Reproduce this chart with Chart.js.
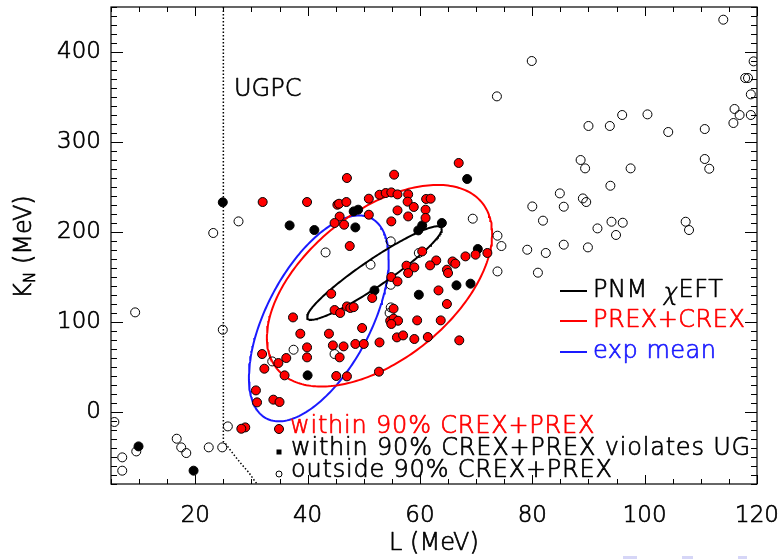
<!DOCTYPE html>
<html>
<head>
<meta charset="utf-8">
<script src="https://cdn.jsdelivr.net/npm/chart.js@4.4.1/dist/chart.umd.min.js"></script>
<style>
  html, body { margin: 0; padding: 0; background: #ffffff; }
  #wrap { width: 782px; height: 559px; position: relative; }
</style>
</head>
<body>
<div id="wrap"><canvas id="c" width="782" height="559"></canvas></div>
<script>
// Models inside the 90% CREX+PREX region: [L, K_N] in MeV
const withinPoints = [
  [32.0,233.3],[39.9,233.3],[47.0,260.0],[45.3,230.3],[45.6,231.4],[46.9,233.3],[45.7,217.2],
  [44.8,210.0],[46.5,208.1],[50.9,237.0],[52.8,241.4],[50.9,219.2],[47.5,184.4],[44.2,131.4],
  [51.5,126.7],[66.9,276.7],[55.4,263.7],[53.9,243.3],[54.9,244.0],[56.0,241.8],[57.9,241.8],
  [57.8,233.7],[58.9,227.8],[61.1,236.7],[61.9,237.0],[61.0,224.8],[56.0,224.0],[57.9,217.3],
  [61.0,215.6],[54.9,211.8],[60.4,178.4],[69.9,174.8],[72.0,176.7],[68.1,172.9],[62.9,168.4],
  [61.8,162.9],[65.8,167.3],[66.3,164.8],[64.8,158.1],[65.0,154.4],[57.6,162.6],[59.0,160.7],
  [57.9,154.4],[54.9,150.0],[56.0,145.1],[63.3,135.1],[44.8,113.3],[45.8,110.0],[47.0,117.3],
  [47.6,115.6],[48.2,116.5],[37.4,105.1],[38.7,87.0],[43.8,87.0],[49.7,93.3],[39.9,71.8],
  [39.9,60.7],[44.5,74.0],[46.4,72.9],[45.7,60.7],[48.5,75.6],[50.0,75.6],[52.8,77.3],
  [31.9,64.4],[34.8,54.4],[36.2,60.0],[32.3,48.1],[35.9,40.7],[45.1,40.0],[47.0,39.6],
  [52.7,44.8],[30.8,24.0],[31.0,10.7],[33.9,13.7],[35.0,11.1],[28.9,-17.1],[28.2,-18.6],
  [55.3,114.8],[54.7,101.4],[55.3,103.7],[56.1,101.4],[54.9,97.8],[59.5,101.8],[63.7,101.8],
  [64.8,120.0],[55.9,82.9],[57.0,85.1],[59.0,81.1],[61.4,83.3],[67.0,79.6]
];

// Models inside the 90% region that violate the unitary gas bound
const violatesPoints = [
  [24.9,233.0],[36.8,207.3],[41.2,202.2],[48.2,222.9],[49.0,224.8],[48.5,205.1],[51.9,135.1],
  [68.4,258.9],[63.9,210.0],[60.4,207.3],[59.7,201.8],[70.3,181.1],[66.5,140.7],[69.0,142.6],
  [59.8,130.3],[40.0,40.7],[9.9,-38.2],[19.7,-65.2]
];

// Models outside the 90% region
const outsidePoints = [
  [27.7,211.8],[23.2,198.9],[43.2,177.3],[51.2,163.7],[69.4,214.8],[54.8,189.6],[59.8,176.7],
  [73.8,195.9],[74.5,184.4],[73.8,156.2],[54.8,141.4],[37.5,69.2],[44.8,64.4],[33.7,56.2],
  [54.8,116.2],[54.6,110.0],[9.3,110.7],[24.9,91.4],[5.6,-11.1],[9.5,-43.8],[7.0,-50.4],
  [7.0,-65.2],[16.7,-29.7],[17.5,-39.3],[18.4,-45.6],[22.4,-39.3],[24.8,-39.3],[25.8,-16.0],
  [114.0,435.9],[79.9,390.0],[119.4,389.6],[117.9,371.1],[118.4,371.1],[118.9,352.9],
  [73.7,350.7],[116.0,336.7],[116.9,330.0],[115.8,321.1],[118.9,330.0],[96.0,330.0],
  [100.5,330.7],[90.0,317.8],[93.8,317.8],[104.2,311.1],[110.7,314.4],[88.6,280.0],
  [89.4,270.7],[97.5,270.7],[110.7,281.1],[111.5,270.3],[93.9,251.4],[84.9,242.9],
  [89.0,237.3],[89.6,233.3],[80.0,228.4],[85.6,228.1],[81.9,212.6],[94.1,211.4],
  [96.1,210.3],[91.6,204.0],[94.9,196.7],[107.3,211.4],[107.9,202.2],[79.1,180.3],
  [82.4,176.7],[85.6,185.9],[89.9,182.9],[81.0,154.8]
];

// Confidence contours: centre, half-extent in L and K_N, and L–K_N phase (deg)
const ellipseChiEFT   = { cx: 51.9, cy: 154.4, ax: 12.0, ay: 52.0,  phase: 20 };
const ellipsePrexCrex = { cx: 52.8, cy: 140.3, ax: 20.05, ay: 112.0, phase: 59 };
const ellipseExpMean  = { cx: 42.0, cy: 104.0, ax: 12.45, ay: 114.4, phase: 55 };

// Unitary gas bound (dotted curve)
const ugpcBoundary = [
  [25.0,450],[25.0,-33],[25.3,-34.4],[26.2,-42.0],[27.1,-49.3],[28.3,-58.5],
  [29.5,-67.0],[30.4,-75.0],[31.0,-80.0]
];

const xTickValues = [20, 40, 60, 80, 100, 120];
const yTickValues = [0, 100, 200, 300, 400];

const FONT = '"DejaVu Sans", "Liberation Sans", sans-serif';
const WEIGHT = '200';
const STROKE = 0.7;
const RED = '#ff0000';
const BLUE = '#1a1aff';

const toXY = arr => arr.map(([x, y]) => ({ x, y }));

function ellipseOutline(e, n = 240) {
  const pts = [];
  const ph = e.phase * Math.PI / 180;
  for (let i = 0; i <= n; i++) {
    const t = 2 * Math.PI * i / n;
    pts.push({ x: e.cx + e.ax * Math.cos(t), y: e.cy + e.ay * Math.cos(t - ph) });
  }
  return pts;
}

// filled text with a thin outline of the same colour, optional letter spacing
function drawText(ctx, text, x, y, spacing = 0) {
  ctx.letterSpacing = spacing + 'px';
  ctx.strokeStyle = ctx.fillStyle;
  ctx.lineWidth = STROKE;
  ctx.lineJoin = 'round';
  ctx.fillText(text, x, y);
  ctx.strokeText(text, x, y);
  const w = ctx.measureText(text).width;
  ctx.letterSpacing = '0px';
  return w;
}

const framePlugin = {
  id: 'frameAndAnnotations',
  afterDraw(chart) {
    const ctx = chart.ctx;
    const { left, right, top, bottom } = chart.chartArea;
    const xs = chart.scales.x, ys = chart.scales.y;
    ctx.save();
    ctx.strokeStyle = '#000';
    ctx.lineWidth = 1.2;
    ctx.strokeRect(left, top, right - left, bottom - top);

    ctx.lineWidth = 1;
    ctx.beginPath();
    for (let v = 5; v <= 120; v += 5) {
      const px = Math.round(xs.getPixelForValue(v)) + 0.5;
      const len = v % 20 === 0 ? 9 : 5;
      ctx.moveTo(px, bottom); ctx.lineTo(px, bottom - len);
      ctx.moveTo(px, top); ctx.lineTo(px, top + len);
    }
    for (let v = -80; v <= 450; v += 10) {
      const py = Math.round(ys.getPixelForValue(v)) + 0.5;
      const len = v % 100 === 0 ? 12 : 6;
      ctx.moveTo(left, py); ctx.lineTo(left + len, py);
      ctx.moveTo(right, py); ctx.lineTo(right - len, py);
    }
    ctx.stroke();

    // y-axis title K_N (MeV)
    ctx.fillStyle = '#000';
    ctx.textBaseline = 'alphabetic';
    ctx.textAlign = 'left';
    ctx.save();
    ctx.translate(22, 247);
    ctx.rotate(-Math.PI / 2);
    ctx.font = `${WEIGHT} 24px ${FONT}`;
    const wK = ctx.measureText('K').width;
    const wRest = ctx.measureText(' (MeV)').width;
    ctx.font = `${WEIGHT} 15px ${FONT}`;
    const wN = ctx.measureText('N').width;
    const total = wK + wN + wRest;
    let u = -total / 2;
    ctx.font = `${WEIGHT} 24px ${FONT}`;
    drawText(ctx, 'K', u, 9); u += wK;
    ctx.font = `${WEIGHT} 15px ${FONT}`;
    drawText(ctx, 'N', u, 13); u += wN;
    ctx.font = `${WEIGHT} 24px ${FONT}`;
    drawText(ctx, ' (MeV)', u, 9);
    ctx.restore();

    // x-axis title
    ctx.font = `${WEIGHT} 24px ${FONT}`;
    ctx.textAlign = 'center';
    ctx.textBaseline = 'middle';
    drawText(ctx, 'L (MeV)', (left + right) / 2, 544);

    // UGPC label
    ctx.textAlign = 'left';
    drawText(ctx, 'UGPC', 234, 90);

    // contour key
    const key = [
      { color: '#000', y: 291, parts: ['PNM  ', '\u03c7', 'EFT'] },
      { color: RED, y: 321, parts: ['PREX+CREX'] },
      { color: BLUE, y: 352, parts: ['exp mean'] }
    ];
    ctx.font = `${WEIGHT} 24px ${FONT}`;
    key.forEach(k => {
      ctx.strokeStyle = k.color;
      ctx.lineWidth = 2;
      ctx.beginPath(); ctx.moveTo(560, k.y); ctx.lineTo(587, k.y); ctx.stroke();
      ctx.fillStyle = k.color;
      let x = 593;
      k.parts.forEach(t => {
        if (t === '\u03c7') {
          // slanted Greek chi, dropped slightly below the line
          ctx.save();
          ctx.translate(x, k.y + 3);
          ctx.transform(1, 0, -0.18, 1, 0, 0);
          x += drawText(ctx, t, 0, 0, 0.5);
          ctx.restore();
        } else {
          x += drawText(ctx, t, x, k.y, 0.5);
        }
      });
    });

    // marker key
    ctx.lineWidth = 1;
    ctx.strokeStyle = '#000';
    ctx.fillStyle = RED;
    ctx.beginPath(); ctx.arc(279, 429, 4.5, 0, 2 * Math.PI); ctx.fill(); ctx.stroke();
    drawText(ctx, 'within 90% CREX+PREX', 290, 427, 0.8);
    ctx.fillStyle = '#000';
    ctx.fillRect(276.5, 449.5, 5, 5);
    drawText(ctx, 'within 90% CREX+PREX violates UG', 291, 449, 0.8);
    ctx.strokeStyle = '#000';
    ctx.lineWidth = 1;
    ctx.beginPath(); ctx.arc(279, 474, 3, 0, 2 * Math.PI); ctx.stroke();
    drawText(ctx, 'outside 90% CREX+PREX', 291, 471, 0.8);

    // faint marks along the lower edge
    ctx.fillStyle = '#d6d6f7';
    ctx.fillRect(623, 556, 14, 3);
    ctx.fillRect(682, 556, 11, 3);
    ctx.fillRect(738, 556, 9, 3);
    ctx.restore();
  }
};

const tickFont = { family: FONT, size: 23, weight: WEIGHT };

new Chart(document.getElementById('c'), {
  type: 'scatter',
  data: {
    datasets: [
      { label: 'within 90% CREX+PREX', data: toXY(withinPoints), pointRadius: 4.5,
        pointBackgroundColor: RED, pointBorderColor: '#000', pointBorderWidth: 1, clip: 0, order: 1 },
      { label: 'within 90% CREX+PREX violates UG', data: toXY(violatesPoints), pointRadius: 4.5,
        pointBackgroundColor: '#000', pointBorderColor: '#000', pointBorderWidth: 1, clip: 0, order: 1 },
      { label: 'outside 90% CREX+PREX', data: toXY(outsidePoints), pointRadius: 4.5,
        pointBackgroundColor: 'rgba(255,255,255,0)', pointBorderColor: '#000', pointBorderWidth: 1, clip: 0, order: 1 },
      { type: 'line', label: 'PNM \u03c7EFT', data: ellipseOutline(ellipseChiEFT), borderColor: '#000',
        borderWidth: 2, pointRadius: 0, fill: false, tension: 0, clip: 0, order: 5 },
      { type: 'line', label: 'PREX+CREX', data: ellipseOutline(ellipsePrexCrex), borderColor: RED,
        borderWidth: 2, pointRadius: 0, fill: false, tension: 0, clip: 0, order: 5 },
      { type: 'line', label: 'exp mean', data: ellipseOutline(ellipseExpMean), borderColor: BLUE,
        borderWidth: 2, pointRadius: 0, fill: false, tension: 0, clip: 0, order: 5 },
      { type: 'line', label: 'UGPC', data: toXY(ugpcBoundary), borderColor: '#000', borderWidth: 1.5,
        borderDash: [1.5, 2], pointRadius: 0, fill: false, tension: 0, clip: 0, order: 6 }
    ]
  },
  options: {
    responsive: false,
    animation: false,
    layout: { padding: { left: 0, right: 25, top: 7, bottom: 0 } },
    plugins: { legend: { display: false }, tooltip: { enabled: false } },
    scales: {
      x: {
        type: 'linear', min: 5, max: 120,
        grid: { display: false, drawTicks: false }, border: { display: false },
        ticks: { color: '#000', font: tickFont, padding: 18, maxRotation: 0, autoSkip: false,
                 textStrokeColor: '#000', textStrokeWidth: STROKE },
        afterBuildTicks: s => { s.ticks = xTickValues.map(v => ({ value: v })); },
        afterFit: s => { s.height = 75; s.paddingLeft = 0; s.paddingRight = 0; }
      },
      y: {
        type: 'linear', min: -80, max: 450,
        grid: { display: false, drawTicks: false }, border: { display: false },
        ticks: { color: '#000', font: tickFont, padding: 10, autoSkip: false,
                 textStrokeColor: '#000', textStrokeWidth: STROKE },
        afterBuildTicks: s => { s.ticks = yTickValues.map(v => ({ value: v })); },
        afterFit: s => { s.width = 111; s.paddingTop = 0; s.paddingBottom = 0; }
      }
    }
  },
  plugins: [framePlugin]
});
</script>
</body>
</html>
